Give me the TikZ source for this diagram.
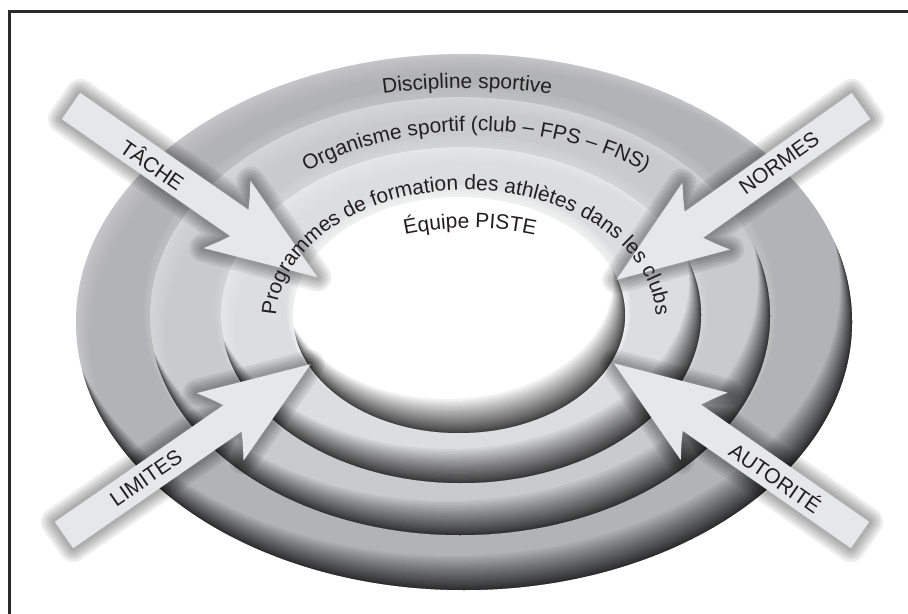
\documentclass[tikz,border=0pt]{standalone}
\usepackage{fontspec}
\setmainfont{Liberation Sans}
\usetikzlibrary{decorations.text}
\definecolor{ringA}{HTML}{B2B3B6}
\definecolor{ringB}{HTML}{C9CACC}
\definecolor{ringC}{HTML}{DCDDDF}
\definecolor{arrowC}{HTML}{E6E7E8}
\definecolor{txt}{HTML}{231F20}
\definecolor{framec}{HTML}{2B2B2B}
\newcommand\ringfont{\fontsize{11.9}{14}\selectfont}
\newcommand\arrowfont{\fontsize{12}{14}\selectfont}
% soft upper edge for inner discs
\newcommand\softedge[5]{%
  \foreach \k in {4,...,1}{%
    \fill[#5, opacity=0.18] (#1,#2+1.5*\k) ellipse [x radius=#3+1.5*\k, y radius=#4+1.5*\k];
  }%
}
% disc with highlight (upper left) and dark rim (lower right)
\newcommand\ringdisc[5]{%
  \fill[#5] (#1,#2) ellipse [x radius=#3, y radius=#4];
  \begin{scope}
    \clip (#1,#2) ellipse [x radius=#3, y radius=#4];
    \foreach \i in {1,...,10}{%
      \pgfmathsetmacro\sv{(\i/10)^1.5}%
      \fill[white, opacity=0.04, even odd rule] (-20,20) rectangle (930,-640)
        ([shift={(14*\sv,-16*\sv)}]#1,#2) ellipse [x radius=#3, y radius=#4];
    }
    \foreach \i in {1,...,26}{%
      \pgfmathsetmacro\sv{(\i/26)^1.7}%
      \fill[black, opacity=0.052, even odd rule] (-20,20) rectangle (930,-640)
        ([shift={(-12*\sv,34*\sv)}]#1,#2) ellipse [x radius=#3, y radius=#4];
    }
  \end{scope}%
}
\newcommand\arrowpath{(0,16) -- (205,16) .. controls (199,27) .. (190,41) -- (300,0) -- (190,-41) .. controls (199,-27) .. (205,-16) -- (0,-16) -- cycle}
\newcommand\bigarrow[3]{%
  \begin{scope}[shift={(#1,#2)}, rotate=#3]
    \foreach \w in {16,13,10,7,4}{%
      \draw[black, opacity=0.07, line width=\w pt, line join=round] \arrowpath;
    }
    \fill[arrowC] \arrowpath;
  \end{scope}%
}
\tikzset{
  lab/.style={font=\arrowfont, text=txt, inner sep=0pt},
  ringtext/.style={decorate, decoration={text along path, text align=center, text={|\ringfont\color{txt}|#1}}}
}
\begin{document}
\begin{tikzpicture}[x=0.02cm, y=0.02cm]
\useasboundingbox (0,0) rectangle (908,-614);
\fill[white] (0,0) rectangle (908,-614);
% rings
\ringdisc{464}{-322}{388}{268}{ringA}
\softedge{460}{-316}{310}{219}{ringB}
\ringdisc{460}{-316}{310}{219}{ringB}
\softedge{461}{-315}{240}{168}{ringC}
\ringdisc{461}{-315}{240}{168}{ringC}
\softedge{459}{-315}{166}{118}{white}
\ringdisc{459}{-315}{166}{118}{white}
% arrows
\bigarrow{71}{-106}{-34.8}
\bigarrow{861}{-106}{215.4}
\bigarrow{64}{-535}{34.7}
\bigarrow{860}{-535}{145.1}
% arrow labels
\node[lab, rotate=-34.8] (labT) at (153,-164) {TÂCHE};
\node[lab, rotate=35.4] (labN) at (779,-163) {NORMES};
\node[lab, rotate=34.7] (labL) at (146,-478) {LIMITES};
\node[lab, rotate=-34.9] (labA) at (776,-477) {AUTORITÉ};
% ring texts
\path[ringtext={Discipline sportive}] ([shift={(110:600)}]467,-688) arc[start angle=110, end angle=70, radius=600];
\path[ringtext={Organisme sportif (club – FPS – FNS)}] ([shift={(178:272 and 189)}]476,-320) arc[start angle=178, end angle=2, x radius=272, y radius=189];
\path[ringtext={Programmes de formation des athlètes dans les clubs}] ([shift={(195:190 and 130)}]466,-320) arc[start angle=195, end angle=-15, x radius=190, y radius=130];
\path[ringtext={Équipe PISTE}] ([shift={(105:310)}]470,-538) arc[start angle=105, end angle=75, radius=310];
% frame
\draw[framec, line width=1.7pt] (9.7,-614) -- (9.7,-11.6) -- (908,-11.6);
\end{tikzpicture}
\end{document}
